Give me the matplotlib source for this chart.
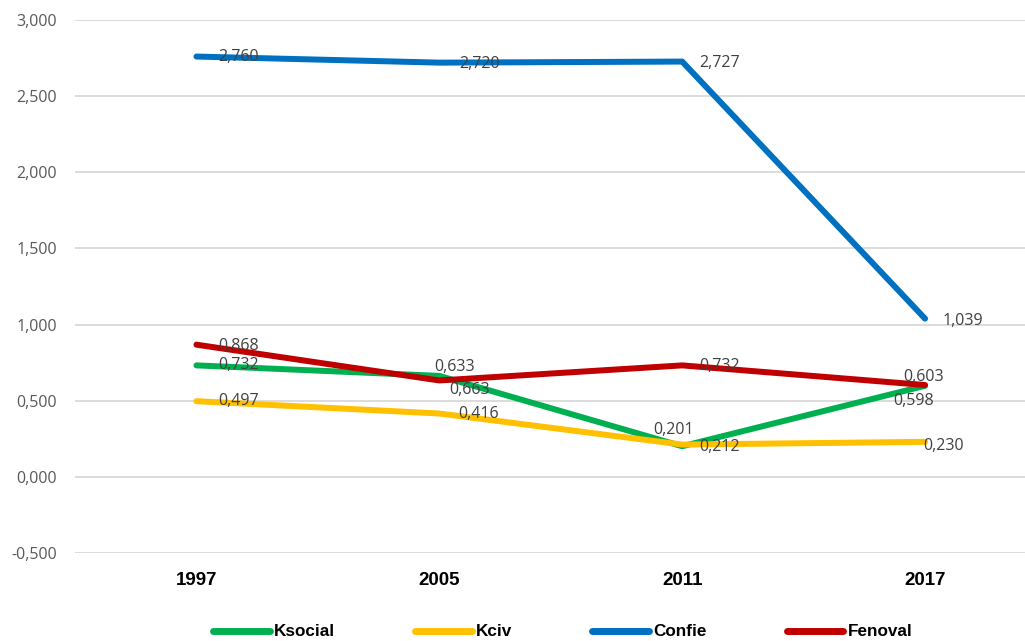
import matplotlib
matplotlib.use("Agg")
import matplotlib.pyplot as plt
from matplotlib.ticker import FuncFormatter

years = ["1997", "2005", "2011", "2017"]
ksocial = [0.732, 0.663, 0.201, 0.598]
kciv = [0.497, 0.416, 0.212, 0.230]
confie = [2.760, 2.720, 2.727, 1.039]
fenoval = [0.868, 0.633, 0.732, 0.603]

series_names = ["Ksocial", "Kciv", "Confie", "Fenoval"]
series_values = [ksocial, kciv, confie, fenoval]
colors = ["#00B050", "#FFC000", "#0070C0", "#C00000"]

# label offsets in pixels (dx, dy) -- style only
label_offsets = {
    "Ksocial": [(22, 0), (10, -14), (-29, 16), (-32, -15)],
    "Kciv": [(22, 0), (19, 0), (17, -2), (-2, -4)],
    "Confie": [(22, 0), (20, -1), (17, -1), (17, -2)],
    "Fenoval": [(22, -1), (-5, 13), (17, -1), (-22, 8)],
}

def fmt(v):
    return f"{v:.3f}".replace(".", ",")

fig = plt.figure(figsize=(10.25, 6.41), dpi=100)
ax = fig.add_axes([75 / 1025, (641 - 553) / 641, (1025 - 75) / 1025, (553 - 20) / 641])

x = list(range(len(years)))
for name, vals, c in zip(series_names, series_values, colors):
    ax.plot(x, vals, color=c, lw=4.3, solid_capstyle="round", solid_joinstyle="round",
            label=name, zorder=3)

for name, vals in zip(series_names, series_values):
    for xi, v, (dx, dy) in zip(x, vals, label_offsets[name]):
        ax.annotate(fmt(v), (xi, v), xytext=(dx, dy), textcoords="offset pixels",
                    ha="left", va="center", fontsize=11.5, color="#404040",
                    family="Open Sans", zorder=4)

ax.set_ylim(-0.5, 3.0)
ax.set_xlim(-0.5, (1025 - 196) / 243.0 - 0.0)
ax.set_yticks([-0.5, 0, 0.5, 1.0, 1.5, 2.0, 2.5, 3.0])
ax.yaxis.set_major_formatter(FuncFormatter(lambda v, p: fmt(v)))
ax.set_xticks(x)
ax.set_xticklabels(years)
ax.grid(axis="y", color="#D9D9D9", lw=1.3, zorder=0)
ax.set_axisbelow(True)
for s in ax.spines.values():
    s.set_visible(False)
ax.tick_params(axis="y", length=0, pad=13, labelsize=11.5, labelcolor="#595959")
ax.tick_params(axis="x", length=0, pad=14, labelsize=13.5)
for lab in ax.get_yticklabels():
    lab.set_family("Open Sans")
for lab in ax.get_xticklabels():
    lab.set_family("Liberation Sans")
    lab.set_fontweight("bold")

leg = fig.legend(loc="center", bbox_to_anchor=(0.549, 1 - 632 / 641), ncol=4,
                 frameon=False, handlelength=3.3, handletextpad=0.25, columnspacing=4.7,
                 prop={"family": "Liberation Sans", "weight": "bold", "size": 12.3})
for h in leg.get_lines():
    h.set_linewidth(5)
    h.set_solid_capstyle("round")

fig.savefig("out.png", dpi=100, facecolor="white")
